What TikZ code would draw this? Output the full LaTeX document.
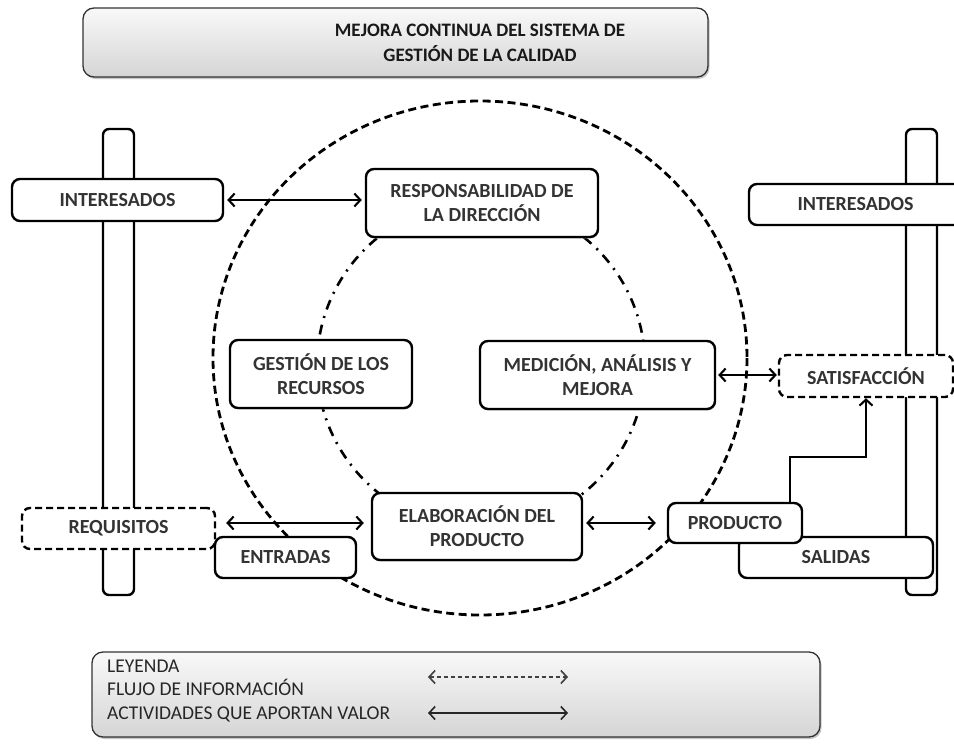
\documentclass[tikz,border=0pt]{standalone}
\usepackage{fontspec}
\setmainfont{Carlito}
\usetikzlibrary{arrows.meta,shadows,calc}

\begin{document}
\begin{tikzpicture}[x=1pt,y=-1pt,
  every node/.style={inner sep=0pt},
  box/.style={draw=black, line width=2.4pt, rounded corners=8pt, fill=white,
    align=center, font=\bfseries\fontsize{20}{24}\selectfont, text=black!80},
  sbox/.style={box, drop shadow={shadow xshift=0.8pt, shadow yshift=-1.5pt, fill=black!40}},
  dbox/.style={box, dash pattern=on 7pt off 4pt},
  bar/.style={draw=black, line width=2.4pt, rounded corners=6pt, fill=white},
  banner/.style={draw=black!80, line width=1.3pt, rounded corners=11pt,
    top color=gray!5, bottom color=gray!33,
    drop shadow={shadow xshift=1.5pt, shadow yshift=-2pt, fill=black!45}},
  link/.style={line width=2.1pt, {Straight Barb[length=6pt,width=13pt]}-{Straight Barb[length=6pt,width=13pt]}},
  uplink/.style={line width=2.1pt, -{Straight Barb[length=6pt,width=13pt]}},
]
\useasboundingbox[fill=white] (0,0) rectangle (954,744);

% title banner
\node[banner, minimum width=625pt, minimum height=69pt] (title) at (395.5,42.5) {};
\node[font=\bfseries\fontsize{19}{25}\selectfont, text=black!90, align=center]
  (titletxt) at (480,43) {MEJORA CONTINUA DEL SISTEMA DE\\GESTIÓN DE LA CALIDAD};

% process cycle
\draw[line width=2.8pt, dash pattern=on 8pt off 4.5pt] (480,358) ellipse [x radius=267, y radius=257];
\draw[line width=2.6pt, dash pattern=on 10pt off 7pt on 2pt off 7pt] (481,365) circle [radius=164];

% vertical bars
\node[bar, minimum width=31pt, minimum height=466pt] (lbar) at (118.5,362) {};
\node[bar, minimum width=31pt, minimum height=466pt] (rbar) at (921.5,362) {};

% boxes
\node[box, minimum width=211pt, minimum height=42pt] (INTL) at (117.5,200) {INTERESADOS};
\node[box, minimum width=213pt, minimum height=41pt] (INTR) at (855.5,204.5) {INTERESADOS};
\node[sbox, minimum width=232pt, minimum height=68pt] (RESP) at (482,203) {RESPONSABILIDAD DE\\LA DIRECCIÓN};
\node[sbox, minimum width=182pt, minimum height=68pt] (GEST) at (321,374) {GESTIÓN DE LOS\\RECURSOS};
\node[sbox, minimum width=235pt, minimum height=68pt] (MED) at (597.5,375) {MEDICIÓN, ANÁLISIS Y\\MEJORA};
\node[dbox, minimum width=174pt, minimum height=42pt] (SAT) at (866,376) {SATISFACCIÓN};
\node[sbox, minimum width=210pt, minimum height=67pt] (ELAB) at (477,526.5) {ELABORACIÓN DEL\\PRODUCTO};
\node[dbox, minimum width=193pt, minimum height=41pt] (REQ) at (118.5,528.5) {REQUISITOS};
\node[box, minimum width=141pt, minimum height=41pt] (ENT) at (285.5,557.5) {ENTRADAS};
\node[box, minimum width=194pt, minimum height=41pt] (SAL) at (836,557.5) {SALIDAS};
\node[box, minimum width=134pt, minimum height=40pt] (PROD) at (735,523) {PRODUCTO};

% connectors
\draw[link, shorten <=3pt, shorten >=3pt] (INTL.east) -- (INTL.east -| RESP.west);
\draw[link, shorten <=2pt, shorten >=1pt] (MED.east) -- (MED.east -| SAT.west);
\draw[link, shorten <=10pt, shorten >=7pt] ([yshift=5.5pt]REQ.east) -- ([yshift=5.5pt]REQ.east -| ELAB.west);
\draw[link, shorten <=3pt, shorten >=11pt] (ELAB.east |- PROD.west) -- (PROD.west);
\draw[uplink] ([xshift=55pt]PROD.north) -- ++(0,-45) -| (SAT.south);

% legend
\node[banner, minimum width=728pt, minimum height=85pt] (legend) at (456,694.5) {};
\node[anchor=west, align=left, font=\fontsize{19.5}{23.5}\selectfont, text=black!85]
  (legtxt) at (107,691) {LEYENDA\\FLUJO DE INFORMACIÓN\\ACTIVIDADES QUE APORTAN VALOR};
\coordinate (infoA) at (428,677);
\coordinate (infoB) at (568,677);
\coordinate (valA) at (428,713);
\coordinate (valB) at (568,713);
\draw[link, line width=1.6pt, draw=black!75, dash pattern=on 4pt off 3pt] (infoA) -- (infoB);
\draw[link, line width=1.6pt, draw=black!85] (valA) -- (valB);
\end{tikzpicture}
\end{document}
